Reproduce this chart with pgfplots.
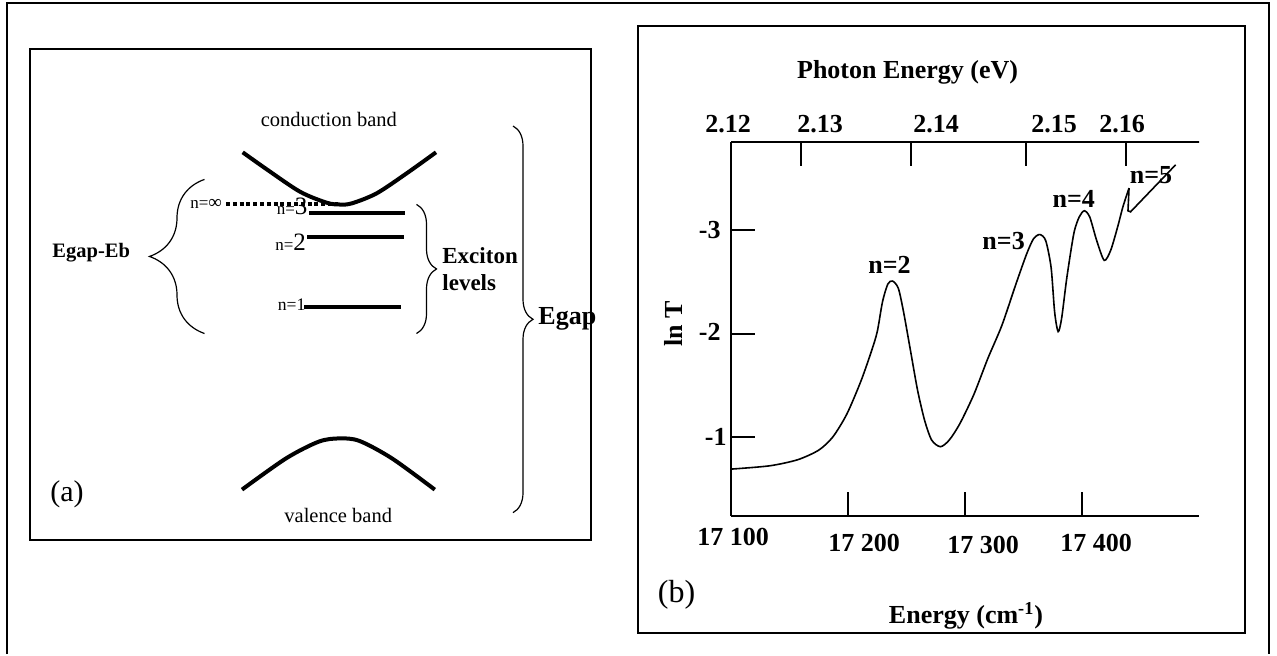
\documentclass[border=0pt]{standalone}
\usepackage{fontspec}
\setmainfont{Liberation Serif}
\usepackage{pgfplots}
\pgfplotsset{compat=1.18}
\usetikzlibrary{decorations.pathreplacing}
\newcommand\fs[1]{\fontsize{#1}{#1}\selectfont}

\pgfplotstableread{
x y
17100 -0.689
17133 -0.721
17157 -0.780
17175 -0.873
17187 -1.000
17199 -1.222
17211 -1.540
17220 -1.830
17225 -2.020
17229.5 -2.310
17234 -2.480
17238 -2.510
17243 -2.440
17247.5 -2.210
17253.5 -1.830
17259.5 -1.450
17265.5 -1.160
17271.5 -0.970
17279 -0.906
17286.5 -0.970
17295.5 -1.127
17307.5 -1.410
17319.5 -1.760
17331.5 -2.080
17343.5 -2.480
17352.6 -2.770
17358.6 -2.920
17364 -2.960
17369 -2.900
17373.6 -2.640
17376.6 -2.210
17379.6 -2.020
17382.6 -2.150
17387 -2.540
17393 -2.970
17397.6 -3.130
17402 -3.190
17406.6 -3.130
17412.6 -2.900
17419 -2.710
17424.6 -2.810
17430.6 -3.040
17435 -3.230
17440.2 -3.410
}\spectrum

\pgfplotstableread{
x y
17440.2 -3.410
17439.3 -3.190
17441.5 -3.180
17480 -3.635
}\tail

\begin{document}
\begin{tikzpicture}
% ---------- canvas (pixel coordinates) ----------
\begin{axis}[at={(0pt,0pt)}, anchor=south west, width=638.5pt, height=327pt,
  scale only axis, xmin=0, xmax=1277, ymin=0, ymax=654, y dir=reverse,
  hide axis, clip=false]
\path (axis cs:0,0) rectangle (axis cs:1277,654);
% frames
\draw[line width=1pt] (axis cs:7,654) -- (axis cs:7,2.5) -- (axis cs:1269,2.5) -- (axis cs:1269,654);
\draw[line width=1pt] (axis cs:263,540) -- (axis cs:30,540) -- (axis cs:30,49) -- (axis cs:591,49) -- (axis cs:591,540) -- (axis cs:475,540);
\draw[line width=0.6pt] (axis cs:263,540) -- (axis cs:475,540);
\draw[line width=1pt] (axis cs:638,26) rectangle (axis cs:1245,633);
% bands
\addplot[line width=2pt, smooth, no marks] coordinates {(242.7,152.3) (266.7,169.3) (300,191.7) (326.7,202.7) (340,204.5) (352,203.3) (376.7,193.3) (406.7,173.3) (436,152.3)};
\addplot[line width=2pt, smooth, no marks] coordinates {(242,489.6) (286,458.4) (318.6,441.7) (339,438.4) (359.4,440.9) (392,458.4) (434.8,489.6)};
% exciton levels
\addplot[line width=2pt, no marks] coordinates {(309.3,213.3) (405,213.3)};
\addplot[line width=2pt, no marks] coordinates {(307.3,236.5) (404,236.5)};
\addplot[line width=2pt, no marks] coordinates {(304,307.3) (400.7,307.3)};
% level labels
\node[anchor=base west, inner sep=0] at (axis cs:276.5,214) {\fs{8.5}n=\fs{12.5}3};
\node[anchor=base west, inner sep=0] at (axis cs:275,250) {\fs{8.5}n=\fs{12.5}2};
\node[anchor=base west, inner sep=0] at (axis cs:277.5,310) {\fs{8.8}n=1};
\node[anchor=base west, inner sep=0] at (axis cs:190,208) {\fs{8.5}n=\fs{9.5}∞};
\addplot[line width=2pt, dash pattern=on 2pt off 1.4pt, no marks] coordinates {(226,204.3) (338,204.3)};
% braces
\draw[decorate, decoration={brace, amplitude=27.5pt}, line width=0.6pt] (axis cs:204.5,333.5) -- (axis cs:204.5,179.4);
\draw[decorate, decoration={brace, amplitude=10pt}, line width=0.6pt] (axis cs:416.5,204.4) -- (axis cs:416.5,333.5);
\draw[decorate, decoration={brace, amplitude=10pt}, line width=0.6pt] (axis cs:513,126) -- (axis cs:513,512.6);
% texts (a)
\node[font=\fs{10.25}] at (axis cs:328.8,119) {conduction band};
\node[font=\fs{10.25}] at (axis cs:338.2,515.5) {valence band};
\node[font=\fs{15}] at (axis cs:67,493.8) {(a)};
\node[font=\bfseries\fs{10.25}] at (axis cs:91.2,253) {Egap-Eb};
\node[font={\bfseries\fontsize{11.5}{13.75}\selectfont}, align=left, anchor=west, inner sep=0] at (axis cs:442,269) {Exciton\\levels};
\node[font=\bfseries\fs{13}, anchor=west, inner sep=0] at (axis cs:538,319) {Egap};
% texts (b)
\node[font=\bfseries\fs{13}] at (axis cs:907.6,71.9) {Photon Energy (eV)};
\node[font=\bfseries\fs{13}] at (axis cs:728,124.5) {2.12};
\node[font=\bfseries\fs{13}] at (axis cs:820,124.5) {2.13};
\node[font=\bfseries\fs{13}] at (axis cs:936,124.5) {2.14};
\node[font=\bfseries\fs{13}] at (axis cs:1054,124.5) {2.15};
\node[font=\bfseries\fs{13}] at (axis cs:1122,124.5) {2.16};
\node[font=\bfseries\fs{13}] at (axis cs:733,537) {17 100};
\node[font=\bfseries\fs{13}] at (axis cs:864,543) {17 200};
\node[font=\bfseries\fs{13}] at (axis cs:983,545) {17 300};
\node[font=\bfseries\fs{13}] at (axis cs:1096,543) {17 400};
\node[font=\bfseries\fs{13}, anchor=east, inner sep=0] at (axis cs:721,230.4) {-3};
\node[font=\bfseries\fs{13}, anchor=east, inner sep=0] at (axis cs:721,331.8) {-2};
\node[font=\bfseries\fs{13}, anchor=east, inner sep=0] at (axis cs:727,437) {-1};
\node[font=\bfseries\fs{13}, rotate=90] at (axis cs:673,323.5) {ln T};
\node[font=\bfseries\fs{13}] at (axis cs:966,615.5) {Energy (cm\textsuperscript{-1})};
\node[font=\fs{16}] at (axis cs:676.6,594.6) {(b)};
\end{axis}

% ---------- panel (b): spectrum ----------
\begin{axis}[at={(365.5pt,69pt)}, anchor=south west, width=234pt, height=186.8pt,
  scale only axis, xmin=17100, xmax=17500, ymin=-3.852, ymax=-0.235, y dir=reverse,
  axis x line*=box, axis y line*=left, axis line style={-, line width=1pt},
  xtick pos=left, tick align=inside, major tick length=12pt,
  tick style={line width=1pt, black}, scaled x ticks=false, scaled y ticks=false,
  xtick={17200,17300,17400}, ytick={-3,-2,-1},
  xticklabels={}, yticklabels={}, clip=false]
\addplot[line width=0.8pt, smooth, tension=0.45, no marks] table[x=x, y=y] {\spectrum};
\addplot[line width=0.8pt, no marks] table[x=x, y=y] {\tail};
\node[font=\bfseries\fs{13}] at (axis cs:17235.5,-2.67) {n=2};
\node[font=\bfseries\fs{13}] at (axis cs:17333,-2.894) {n=3};
\node[font=\bfseries\fs{13}] at (axis cs:17393,-3.30) {n=4};
\node[font=\bfseries\fs{13}] at (axis cs:17459,-3.54) {n=5};
\end{axis}

% ---------- panel (b): photon-energy ticks on top ----------
\begin{axis}[at={(365.5pt,69pt)}, anchor=south west, width=234pt, height=186.8pt,
  scale only axis, xmin=17100, xmax=17500, ymin=-3.852, ymax=-0.235, y dir=reverse,
  axis x line*=box, hide y axis, axis line style={-, line width=1pt},
  xtick pos=right, tick align=inside, major tick length=12pt,
  tick style={line width=1pt, black}, scaled x ticks=false,
  xtick={17160,17254,17352,17438}, xticklabels={}, ytick=\empty]
\end{axis}
\end{tikzpicture}
\end{document}
